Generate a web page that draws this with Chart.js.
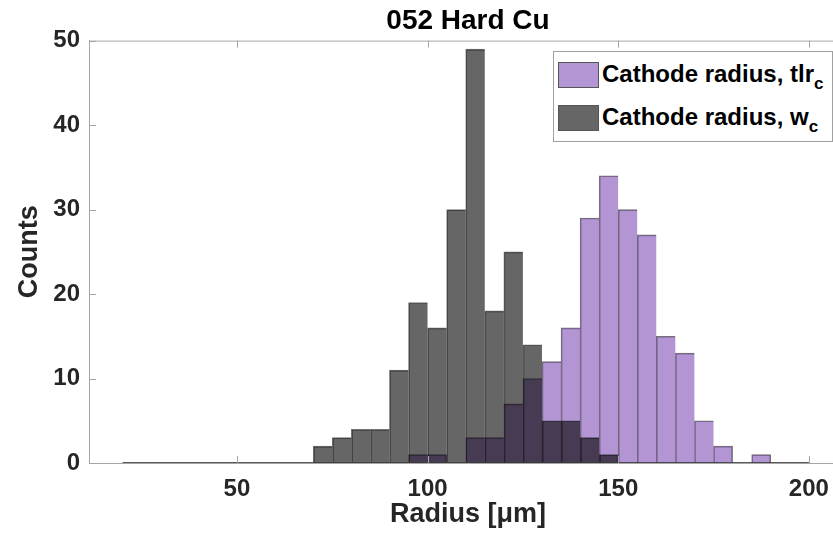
<!DOCTYPE html>
<html>
<head>
<meta charset="utf-8">
<script src="https://cdn.jsdelivr.net/npm/chart.js@4"></script>
<style>
  body { margin: 0; overflow: hidden; background: #fff; }
  #wrap { position: relative; width: 847px; height: 547px; }
  #legend {
    position: absolute; left: 553px; top: 51px; width: 278px; height: 89px;
    border: 1px solid #a0a0a0; background: #fff;
    font-family: "Liberation Sans", Arial, sans-serif; font-weight: bold; font-size: 24px; color: #000;
  }
  #legend .row { position: absolute; left: 4px; height: 26px; white-space: nowrap; }
  #legend .sw { position: absolute; left: 0; top: 0; width: 39px; height: 24px; border: 1px solid #555; }
  #legend .txt { position: absolute; left: 44px; top: -3px; line-height: 30px; }
  #legend sub { font-size: 17px; vertical-align: -7px; line-height: 0; }
</style>
</head>
<body>
<div id="wrap">
  <canvas id="chart" width="847" height="547"></canvas>
  <div id="legend">
    <div class="row" style="top:10px"><div class="sw" style="background:rgb(178,149,210)"></div><span class="txt">Cathode radius, tlr<sub>c</sub></span></div>
    <div class="row" style="top:53px"><div class="sw" style="background:rgb(102,102,102)"></div><span class="txt">Cathode radius, w<sub>c</sub></span></div>
  </div>
</div>
<script>
// histogram bin centres (bin width 5 um, edges 20..200)
const binCenters = [22.5, 27.5, 32.5, 37.5, 42.5, 47.5, 52.5, 57.5, 62.5, 67.5,
  72.5, 77.5, 82.5, 87.5, 92.5, 97.5, 102.5, 107.5, 112.5, 117.5,
  122.5, 127.5, 132.5, 137.5, 142.5, 147.5, 152.5, 157.5, 162.5, 167.5,
  172.5, 177.5, 182.5, 187.5, 192.5, 197.5];
const binEdges = [20, 200];

const wcCounts = [0, 0, 0, 0, 0, 0, 0, 0, 0, 0,
  2, 3, 4, 4, 11, 19, 16, 30, 49, 18,
  25, 14, 5, 5, 3, 1, 0, 0, 0, 0,
  0, 0, 0, 0, 0, 0];
const tlrCounts = [0, 0, 0, 0, 0, 0, 0, 0, 0, 0,
  0, 0, 0, 0, 0, 1, 1, 0, 3, 3,
  7, 10, 12, 16, 29, 34, 30, 27, 15, 13,
  5, 2, 0, 1, 0, 0];

const xTicks = [50, 100, 150, 200];
const yTicks = [0, 10, 20, 30, 40, 50];
const seriesNames = ['Cathode radius, w_c', 'Cathode radius, tlr_c'];

const FONT = '"Liberation Sans", Arial, sans-serif';
const AXIS = '#a6a6a6';

function toPoints(counts) {
  return binCenters.map((x, i) => ({ x: x, y: counts[i] }));
}

// only draw a right edge where the next bin is empty, so shared edges stay 1px
function edges(counts) {
  return ctx => {
    const i = ctx.dataIndex;
    const next = i + 1 < counts.length ? counts[i + 1] : 0;
    return { top: 1, left: 1, bottom: 0, right: next === 0 ? 1 : 0 };
  };
}

const axesBox = {
  id: 'axesBox',
  afterDatasetsDraw(chart) {
    const { ctx, chartArea, scales } = chart;
    const x = scales.x, y = scales.y;
    ctx.save();
    // histogram baseline (empty bins)
    ctx.strokeStyle = 'rgba(60,60,60,0.85)';
    ctx.lineWidth = 1;
    ctx.beginPath();
    ctx.moveTo(x.getPixelForValue(binEdges[0]), y.getPixelForValue(0) - 0.5);
    ctx.lineTo(x.getPixelForValue(binEdges[1]), y.getPixelForValue(0) - 0.5);
    ctx.stroke();
    // top border and inward ticks
    ctx.strokeStyle = AXIS;
    ctx.beginPath();
    ctx.moveTo(chartArea.left, chartArea.top + 0.5);
    ctx.lineTo(chartArea.right, chartArea.top + 0.5);
    xTicks.forEach(v => {
      const px = Math.round(x.getPixelForValue(v)) + 0.5;
      ctx.moveTo(px, chartArea.bottom);
      ctx.lineTo(px, chartArea.bottom - 7);
      ctx.moveTo(px, chartArea.top);
      ctx.lineTo(px, chartArea.top + 7);
    });
    yTicks.forEach(v => {
      const py = Math.round(y.getPixelForValue(v)) + 0.5;
      ctx.moveTo(chartArea.left, py);
      ctx.lineTo(chartArea.left + 7, py);
    });
    ctx.stroke();
    ctx.restore();
  }
};

new Chart(document.getElementById('chart'), {
  type: 'bar',
  data: {
    datasets: [{
      label: seriesNames[0],
      data: toPoints(wcCounts),
      backgroundColor: 'rgba(0,0,0,0.6)',
      borderColor: 'rgba(0,0,0,0.55)',
      borderWidth: edges(wcCounts),
      borderSkipped: false,
      grouped: false,
      barPercentage: 1,
      categoryPercentage: 1
    }, {
      label: seriesNames[1],
      data: toPoints(tlrCounts),
      backgroundColor: 'rgba(127,78,180,0.6)',
      borderColor: 'rgba(0,0,0,0.55)',
      borderWidth: edges(tlrCounts),
      borderSkipped: false,
      grouped: false,
      barPercentage: 1,
      categoryPercentage: 1
    }]
  },
  options: {
    responsive: false,
    animation: false,
    layout: { padding: 0 },
    plugins: {
      legend: { display: false },
      tooltip: { enabled: false },
      title: {
        display: true,
        fullSize: false,
        text: '052 Hard Cu',
        color: '#000',
        font: { family: FONT, size: 28, weight: 'bold', lineHeight: 1.2 },
        padding: { top: 4, bottom: 3 }
      }
    },
    scales: {
      x: {
        type: 'linear',
        min: 11.2,
        max: 210,
        offset: false,
        afterFit(s) { s.height = 84; },
        afterBuildTicks(s) { s.ticks = xTicks.map(v => ({ value: v })); },
        grid: { display: false, drawTicks: false },
        border: { display: true, color: AXIS, width: 1 },
        ticks: { color: '#262626', padding: 12, maxRotation: 0, font: { family: FONT, size: 24, weight: 'bold' } },
        title: {
          display: true,
          text: 'Radius [μm]',
          color: '#262626',
          font: { family: FONT, size: 27, weight: 'bold' },
          padding: { top: 0, bottom: 16 }
        }
      },
      y: {
        min: 0,
        max: 50,
        afterFit(s) { s.width = 89; },
        afterBuildTicks(s) { s.ticks = yTicks.map(v => ({ value: v })); },
        grid: { display: false, drawTicks: false },
        border: { display: true, color: AXIS, width: 1 },
        ticks: { color: '#262626', padding: 9, font: { family: FONT, size: 24, weight: 'bold' } },
        title: {
          display: true,
          text: 'Counts',
          color: '#262626',
          font: { family: FONT, size: 27, weight: 'bold' },
          padding: { top: 13, bottom: 0 }
        }
      }
    }
  },
  plugins: [axesBox]
});
</script>
</body>
</html>
